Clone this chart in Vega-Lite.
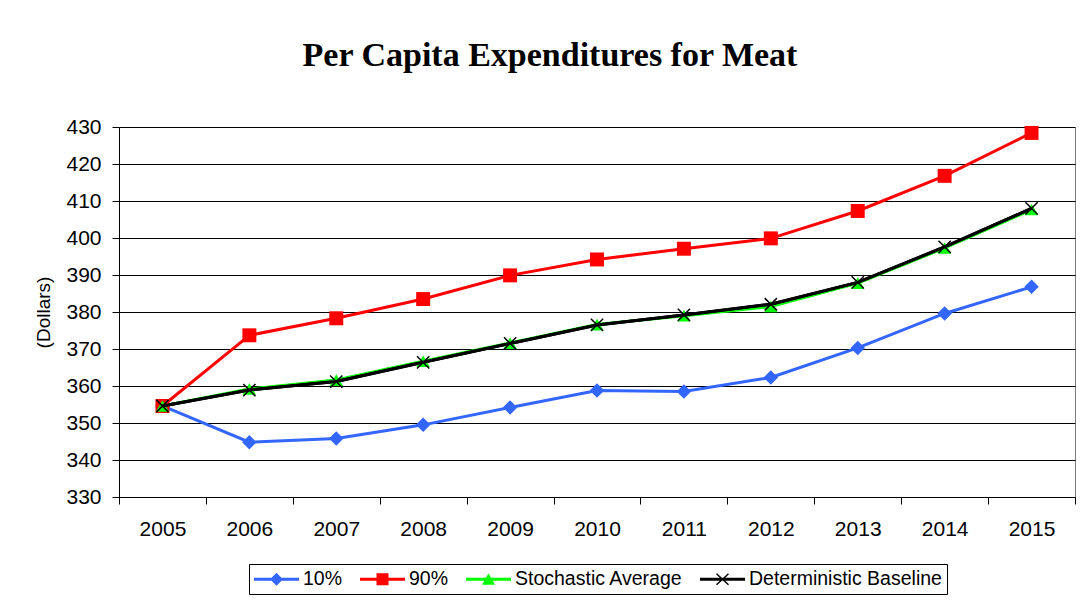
{
  "$schema": "https://vega.github.io/schema/vega-lite/v6.json",
  "width": 956,
  "height": 370,
  "autosize": {"type": "none"},
  "padding": {"left": 119, "top": 127, "right": 11, "bottom": 108},
  "background": "white",
  "title": {
    "text": "Per Capita Expenditures for Meat",
    "font": "Liberation Serif",
    "fontSize": 34,
    "fontWeight": "bold",
    "color": "black",
    "offset": 43,
    "dx": -47
  },
  "config": {
    "view": {"stroke": "#808080", "strokeWidth": 1},
    "axis": {
      "labelFont": "Liberation Sans",
      "titleFont": "Liberation Sans",
      "labelColor": "black",
      "titleColor": "black",
      "domainColor": "black",
      "tickColor": "black"
    },
    "legend": {"labelFont": "Liberation Sans", "labelColor": "black"}
  },
  "data": {
    "values": [
      {"year": "2005", "series": "10%", "value": 354.6},
      {"year": "2006", "series": "10%", "value": 344.8},
      {"year": "2007", "series": "10%", "value": 345.8},
      {"year": "2008", "series": "10%", "value": 349.5},
      {"year": "2009", "series": "10%", "value": 354.2},
      {"year": "2010", "series": "10%", "value": 358.8},
      {"year": "2011", "series": "10%", "value": 358.5},
      {"year": "2012", "series": "10%", "value": 362.3},
      {"year": "2013", "series": "10%", "value": 370.3},
      {"year": "2014", "series": "10%", "value": 379.6},
      {"year": "2015", "series": "10%", "value": 386.8},
      {"year": "2005", "series": "90%", "value": 354.6},
      {"year": "2006", "series": "90%", "value": 373.7},
      {"year": "2007", "series": "90%", "value": 378.3},
      {"year": "2008", "series": "90%", "value": 383.5},
      {"year": "2009", "series": "90%", "value": 389.9},
      {"year": "2010", "series": "90%", "value": 394.2},
      {"year": "2011", "series": "90%", "value": 397.1},
      {"year": "2012", "series": "90%", "value": 399.9},
      {"year": "2013", "series": "90%", "value": 407.3},
      {"year": "2014", "series": "90%", "value": 416.8},
      {"year": "2015", "series": "90%", "value": 428.4},
      {"year": "2005", "series": "Stochastic Average", "value": 354.6},
      {"year": "2006", "series": "Stochastic Average", "value": 359.2},
      {"year": "2007", "series": "Stochastic Average", "value": 361.6},
      {"year": "2008", "series": "Stochastic Average", "value": 366.7},
      {"year": "2009", "series": "Stochastic Average", "value": 371.6},
      {"year": "2010", "series": "Stochastic Average", "value": 376.6},
      {"year": "2011", "series": "Stochastic Average", "value": 379.0},
      {"year": "2012", "series": "Stochastic Average", "value": 381.5},
      {"year": "2013", "series": "Stochastic Average", "value": 387.8},
      {"year": "2014", "series": "Stochastic Average", "value": 397.3},
      {"year": "2015", "series": "Stochastic Average", "value": 407.7},
      {"year": "2005", "series": "Deterministic Baseline", "value": 354.6},
      {"year": "2006", "series": "Deterministic Baseline", "value": 358.9},
      {"year": "2007", "series": "Deterministic Baseline", "value": 361.2},
      {"year": "2008", "series": "Deterministic Baseline", "value": 366.4},
      {"year": "2009", "series": "Deterministic Baseline", "value": 371.5},
      {"year": "2010", "series": "Deterministic Baseline", "value": 376.5},
      {"year": "2011", "series": "Deterministic Baseline", "value": 379.2},
      {"year": "2012", "series": "Deterministic Baseline", "value": 382.1},
      {"year": "2013", "series": "Deterministic Baseline", "value": 388.0},
      {"year": "2014", "series": "Deterministic Baseline", "value": 397.6},
      {"year": "2015", "series": "Deterministic Baseline", "value": 408.0}
    ]
  },
  "encoding": {
    "x": {
      "field": "year",
      "type": "ordinal",
      "bandPosition": 0.5,
      "scale": {"type": "band", "paddingInner": 0, "paddingOuter": 0},
      "axis": {
        "title": null,
        "labelAngle": 0,
        "labelFontSize": 21,
        "labelPadding": 14,
        "tickBand": "extent",
        "tickSize": 7,
        "grid": false
      }
    },
    "y": {
      "field": "value",
      "type": "quantitative",
      "scale": {"domain": [330, 430], "nice": false, "zero": false},
      "axis": {
        "title": "(Dollars)",
        "titleFontSize": 19,
        "titleFontWeight": "normal",
        "titlePadding": 12,
        "values": [330, 340, 350, 360, 370, 380, 390, 400, 410, 420, 430],
        "labelFontSize": 21,
        "labelPadding": 11,
        "tickSize": 7,
        "grid": true,
        "gridColor": "black",
        "gridOpacity": 1
      }
    }
  },
  "layer": [
    {
      "mark": {"type": "line", "strokeWidth": 3},
      "encoding": {
        "color": {
          "field": "series",
          "type": "nominal",
          "scale": {
            "domain": ["10%", "90%", "Stochastic Average", "Deterministic Baseline"],
            "range": ["#3366FF", "#FF0000", "#00FF00", "#000000"]
          },
          "legend": {
            "title": null,
            "orient": "none",
            "legendX": 130,
            "legendY": 437,
            "direction": "horizontal",
            "strokeColor": "black",
            "padding": 5,
            "labelFontSize": 19.5,
            "labelOffset": 29,
            "labelLimit": 400,
            "columnPadding": 17,
            "symbolSize": 400,
            "encode": {
              "symbols": {
                "update": {
                  "shape": {"signal": "datum.value === '10%' ? 'M-1,-0.15H3.5V0.15H-1Z M1.25,-0.65L1.9,0L1.25,0.65L0.6,0Z' : datum.value === '90%' ? 'M-1,-0.15H3.5V0.15H-1Z M0.65,-0.6H1.85V0.6H0.65Z' : datum.value === 'Stochastic Average' ? 'M-1,-0.15H3.5V0.15H-1Z M1.25,-0.6L1.9,0.55H0.6Z' : 'M-1,-0.15H3.5V0.15H-1Z M0.6,-0.5L0.7,-0.6L1.9,0.5L1.8,0.6Z M1.8,-0.6L1.9,-0.5L0.7,0.6L0.6,0.5Z'"},
                  "fill": {"scale": "color", "field": "value"},
                  "fillOpacity": {"value": 1},
                  "strokeWidth": {"value": 0},
                  "opacity": {"value": 1}
                }
              }
            }
          }
        }
      }
    },
    {
      "transform": [{"filter": "datum.series !== 'Deterministic Baseline'"}],
      "mark": {"type": "point", "filled": true, "opacity": 1},
      "encoding": {
        "color": {"field": "series", "type": "nominal", "legend": null},
        "shape": {
          "field": "series",
          "type": "nominal",
          "scale": {
            "domain": ["10%", "90%", "Stochastic Average"],
            "range": ["diamond", "square", "triangle-up"]
          },
          "legend": null
        },
        "size": {
          "field": "series",
          "type": "nominal",
          "scale": {
            "domain": ["10%", "90%", "Stochastic Average"],
            "range": [210, 180, 170]
          },
          "legend": null
        }
      }
    },
    {
      "transform": [{"filter": "datum.series === 'Deterministic Baseline'"}],
      "mark": {"type": "line", "strokeWidth": 3, "color": "black"},
      "encoding": {}
    },
    {
      "transform": [{"filter": "datum.series === 'Deterministic Baseline'"}],
      "mark": {
        "type": "point",
        "filled": false,
        "shape": "M-1,-1L1,1M1,-1L-1,1",
        "size": 150,
        "strokeWidth": 1.5,
        "color": "black",
        "opacity": 1
      },
      "encoding": {}
    }
  ]
}
